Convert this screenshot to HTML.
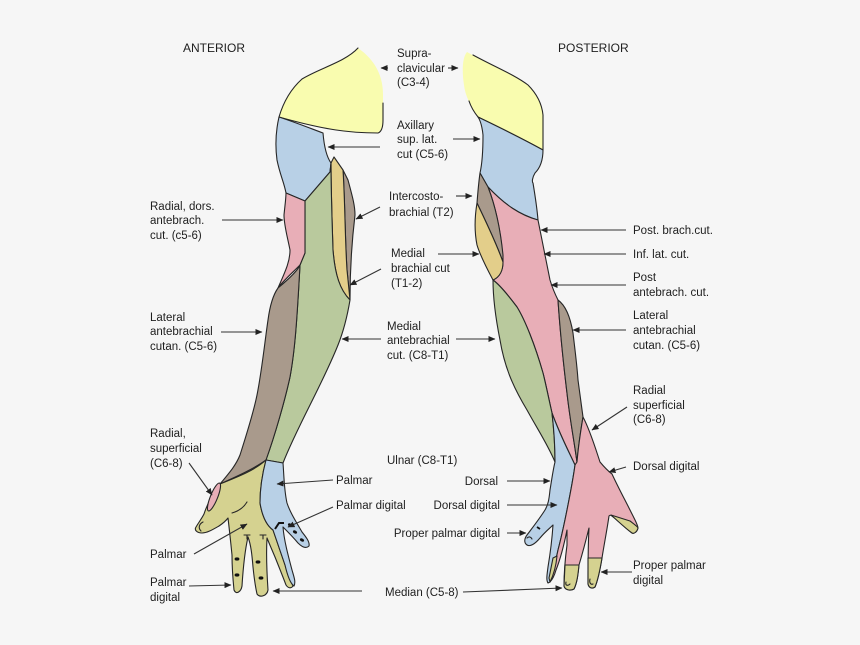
<!DOCTYPE html>
<html>
<head>
<meta charset="utf-8">
<style>
  html,body{margin:0;padding:0;background:#f6f6f6;}
  svg{display:block;}
  text{font-family:"Liberation Sans",Arial,sans-serif;font-size:11.5px;fill:#1e1e1e;}
  .h{font-size:12px;}
  .s{stroke:#262626;stroke-width:1.1;stroke-linejoin:round;stroke-linecap:round;}
  .a{stroke:#333;stroke-width:1.1;fill:none;marker-end:url(#ah);}
</style>
</head>
<body>
<svg width="860" height="645" viewBox="0 0 860 645" xmlns="http://www.w3.org/2000/svg">
<defs>
  <marker id="ah" markerUnits="userSpaceOnUse" markerWidth="7" markerHeight="6" refX="6.5" refY="3" orient="auto">
    <path d="M0,0 L7,3 L0,6 z" fill="#222"/>
  </marker>
</defs>
<rect width="860" height="645" fill="#f6f6f6"/>

<!-- ================= ANTERIOR ARM ================= -->
<!-- yellow shoulder -->
<path d="M302,79 C320,68 345,62 358,48 C372,58 383,72 383,95 L383,120 C383,128 381,132 378,133 C350,133 325,130 279,117 C284,100 292,88 302,79 Z" fill="#f9fcaf"/>
<path class="s" fill="none" d="M383,103 L383,120 C383,128 381,132 378,133 C350,133 325,130 279,117 C284,100 292,88 302,79 C320,68 345,62 358,48"/>
<!-- blue axillary -->
<path class="s" fill="#b8d0e6" d="M279,117 C300,124 312,129 323,133 C324,145 326,156 331,163 L330,172 L305,201 L286,193 C284,182 280,175 277,160 C275,145 276,130 279,117 Z"/>
<!-- brown intercostobrachial -->
<path class="s" fill="#a99a8c" d="M343,170 L348,180 C352,195 355,205 355,215 C352,240 350,270 350,300 L347,270 C345,240 345,200 343,170 Z"/>
<!-- tan medial brachial -->
<path class="s" fill="#e3ce8a" d="M331,163 L334,157 L343,170 C345,200 345,240 347,270 L350,300 C340,290 335,275 333,250 C332,220 331,190 331,163 Z"/>
<!-- green medial antebrachial -->
<path class="s" fill="#b9c99d" d="M305,201 L330,172 L331,163 C331,190 332,220 333,250 C335,275 340,290 350,300 C348,312 344,330 338,345 C330,365 320,385 310,405 C300,425 290,445 283,463 L266,460 C275,435 285,400 290,377 C295,350 297,320 300,265 L305,253 Z"/>
<!-- pink radial dors antebrach -->
<path class="s" fill="#e8aeb7" d="M286,193 L305,201 L305,253 L300,265 C290,275 282,282 278,288 C285,272 290,262 290,250 C287,235 284,225 284,215 C285,205 286,198 286,193 Z"/>
<!-- brown lateral antebrachial -->
<path class="s" fill="#a99a8c" d="M278,288 C290,278 298,270 300,265 C297,320 295,350 290,377 C285,400 275,435 266,460 C255,468 240,475 220,484 C230,472 236,465 240,455 C248,430 254,410 257,395 C262,370 265,340 268,320 C270,305 273,295 278,288 Z"/>
<!-- palm olive -->
<path class="s" fill="#d5d290" d="M220,484 C240,476 255,470 266,460 C262,475 260,490 260,503 C262,515 266,525 273,530 C277,542 281,553 285,565 C288,575 291,581 293,586 C291,589 288,588 286,585 C283,577 279,567 275,557 C272,550 269,543 267,538 C266,555 267,575 268,590 C267,596 260,598 257,594 C255,585 254,577 253,567 C252,555 251,545 248,537 C245,550 243,570 242,586 C241,592 236,595 234,590 C233,580 232,565 232,555 C231,545 230,535 228,518 C225,522 222,524 219,526 C212,530 207,533 202,533 C197,533 194,530 196,527 C199,522 202,518 204,514 C207,505 212,494 220,484 Z"/>
<!-- blue ulnar palmar -->
<path class="s" fill="#b8d0e6" d="M266,460 L283,463 C284,475 284,490 287,503 C290,512 295,520 302,532 C306,537 310,542 309,546 C306,549 302,547 298,543 C293,537 288,532 283,527 C284,540 288,555 292,570 C294,577 296,582 294,586 C291,584 288,578 285,565 C281,553 277,542 273,530 C266,525 262,515 260,503 C260,490 262,475 266,460 Z"/>
<!-- pink radial superficial ellipse -->
<ellipse class="s" cx="214" cy="497" rx="3.6" ry="15" transform="rotate(22 214 497)" fill="#e8aeb7"/>
<!-- palm detail lines -->
<path class="s" fill="none" d="M247,502 C244,507 239,511 232,513"/>
<path class="s" fill="none" d="M203,522 C199,524 198,528 201,531"/>
<path class="s" fill="none" d="M244,535 L250,535 M247,535 L247,539"/>
<path class="s" fill="none" d="M260,535 L266,535 M263,535 L263,539"/>
<!-- dots -->
<g fill="#111">
  <ellipse cx="237" cy="559" rx="2.4" ry="1.6"/>
  <ellipse cx="237" cy="575" rx="2.4" ry="1.6"/>
  <ellipse cx="258" cy="562" rx="2.4" ry="1.6"/>
  <ellipse cx="261" cy="578" rx="2.4" ry="1.6"/>
  <ellipse cx="290" cy="525" rx="2.2" ry="1.5" transform="rotate(30 290 525)"/>
  <ellipse cx="295" cy="532" rx="2.2" ry="1.5" transform="rotate(30 295 532)"/>
  <ellipse cx="302" cy="540" rx="2.2" ry="1.5" transform="rotate(30 302 540)"/>
</g>
<path stroke="#111" stroke-width="2" fill="none" d="M275,529 L279,523 L284,523"/>

<!-- ================= POSTERIOR ARM ================= -->
<!-- yellow -->
<path d="M467,52 C490,65 515,75 528,85 C538,95 542,105 543,115 L543,150 C525,140 505,130 478,117 C470,105 465,95 464,85 C462,72 462,58 467,52 Z" fill="#f9fcaf"/>
<path class="s" fill="none" d="M473,55 C495,67 515,75 528,85 C538,95 542,105 543,115 L543,150 C525,140 505,130 478,117 C474,112 471,107 469,101"/>
<!-- blue -->
<path class="s" fill="#b8d0e6" d="M478,117 C505,130 525,140 543,150 C543,160 540,168 535,173 C532,178 532,182 533,183 C535,195 537,208 538,220 C520,215 505,205 488,187 L480,173 C483,160 483,145 483,135 C482,125 480,120 478,117 Z"/>
<!-- pink upper -->
<path class="s" fill="#e8aeb7" d="M488,187 C505,205 520,215 538,220 C542,240 546,260 550,280 C553,290 556,296 558,300 C560,330 563,360 567,393 C570,420 574,440 577,462 L575,465 C568,450 560,435 552,413 C548,395 545,380 543,373 C535,345 525,320 517,307 C508,295 500,285 493,280 C500,277 503,270 503,262 C502,240 497,210 488,187 Z"/>
<!-- brown intercostobrachial -->
<path class="s" fill="#a99a8c" d="M480,173 L488,187 C495,205 500,225 503,255 L503,262 C495,240 485,220 477,203 C478,190 479,180 480,173 Z"/>
<!-- tan -->
<path class="s" fill="#e3ce8a" d="M477,203 C485,220 495,240 503,262 C503,270 500,277 493,280 C485,265 480,255 477,245 C474,230 475,215 477,203 Z"/>
<!-- brown lateral -->
<path class="s" fill="#a99a8c" d="M558,300 C565,305 570,315 573,333 C575,350 577,365 578,380 C580,395 582,410 583,417 C580,435 578,450 577,462 C574,440 570,420 567,393 C563,360 560,330 558,300 Z"/>
<!-- green -->
<path class="s" fill="#b9c99d" d="M493,280 C500,285 508,295 517,307 C525,320 535,345 543,373 C546,385 549,400 552,413 C554,430 555,445 555,462 C548,445 538,430 527,410 C515,390 505,370 500,340 C496,320 493,300 493,280 Z"/>
<!-- blue dorsal hand -->
<path class="s" fill="#b8d0e6" d="M552,413 C554,430 555,445 555,462 C553,470 552,478 550,490 C549,500 548,505 545,510 C540,518 533,527 527,535 C524,539 524,543 527,545 C530,547 535,544 540,538 C545,532 550,528 553,525 C552,540 550,555 548,567 C547,575 546,580 548,583 L550,582 C553,570 556,560 558,550 C562,535 565,520 567,510 C570,495 573,480 575,465 C568,450 560,435 552,413 Z"/>
<!-- pink hand -->
<path class="s" fill="#e8aeb7" d="M575,465 L577,462 C578,450 580,435 583,417 C590,430 596,450 600,462 C605,468 608,471 612,474 C618,487 625,500 630,510 C634,518 638,525 638,528 C637,532 634,534 632,533 C625,528 620,522 612,516 C610,515 610,515 609,516 C607,530 604,545 602,558 C600,570 598,580 595,587 C592,589 589,588 588,584 C588,565 588,545 589,528 C586,540 582,555 579,565 C578,575 577,583 574,589 C570,591 565,590 564,586 C564,575 565,560 567,545 L567,530 C564,545 560,560 556,570 C554,577 552,580 550,582 C553,570 556,560 558,550 C562,535 565,520 567,510 C570,495 573,480 575,465 Z"/>
<!-- olive tips posterior -->
<path class="s" fill="#d5d290" d="M611,515 L630,521 C634,524 637,526 638,528 C637,532 634,534 632,533 C625,528 619,522 611,515 Z"/>
<path class="s" fill="#d5d290" d="M588,558 L602,558 C600,570 598,580 595,587 C592,589 589,588 588,584 Z"/>
<path class="s" fill="#d5d290" d="M565,565 L579,565 C578,575 577,583 574,589 C570,591 565,590 564,586 Z"/>
<path class="s" fill="#d5d290" d="M553,558 L557,556 C556,567 553,576 550,582 L549,578 Z"/>
<path class="s" fill="none" d="M590,579 C589,583 591,585 593,584"/>
<path class="s" fill="none" d="M566,582 C565,586 568,586 570,584"/>
<path class="s" fill="none" d="M527,538 C529,536 531,537 532,539"/>
<path stroke="#111" stroke-width="1.8" fill="none" d="M537,527 L540,529"/>

<!-- ================= ARROWS ================= -->
<g>
  <line class="a" x1="388" y1="68" x2="381" y2="68"/>
  <line class="a" x1="448" y1="68" x2="458" y2="68"/>
  <line class="a" x1="380" y1="147" x2="328" y2="147"/>
  <line class="a" x1="453" y1="139" x2="480" y2="139"/>
  <line class="a" x1="380" y1="207" x2="356" y2="219"/>
  <line class="a" x1="456" y1="196" x2="472" y2="196"/>
  <line class="a" x1="381" y1="269" x2="350" y2="285"/>
  <line class="a" x1="438" y1="254" x2="479" y2="254"/>
  <line class="a" x1="381" y1="339" x2="342" y2="339"/>
  <line class="a" x1="456" y1="339" x2="495" y2="339"/>
  <line class="a" x1="333" y1="480" x2="277" y2="484"/>
  <line class="a" x1="333" y1="507" x2="288" y2="527"/>
  <line class="a" x1="507" y1="481" x2="550" y2="481"/>
  <line class="a" x1="507" y1="505" x2="557" y2="505"/>
  <line class="a" x1="507" y1="533" x2="526" y2="533"/>
  <line class="a" x1="463" y1="592" x2="562" y2="588"/>
  <line class="a" x1="362" y1="591" x2="273" y2="591"/>
  <line class="a" x1="222" y1="220" x2="283" y2="220"/>
  <line class="a" x1="221" y1="332" x2="262" y2="332"/>
  <line class="a" x1="189" y1="463" x2="212" y2="495"/>
  <line class="a" x1="194" y1="554" x2="247" y2="524"/>
  <line class="a" x1="189" y1="586" x2="231" y2="585"/>
  <line class="a" x1="626" y1="230" x2="541" y2="230"/>
  <line class="a" x1="626" y1="254" x2="544" y2="254"/>
  <line class="a" x1="626" y1="285" x2="551" y2="285"/>
  <line class="a" x1="626" y1="330" x2="573" y2="330"/>
  <line class="a" x1="627" y1="407" x2="592" y2="430"/>
  <line class="a" x1="626" y1="467" x2="609" y2="472"/>
  <line class="a" x1="632" y1="572" x2="601" y2="572"/>
</g>

<!-- ================= LABELS ================= -->
<text class="h" x="183" y="52">ANTERIOR</text>
<text class="h" x="558" y="52">POSTERIOR</text>

<text x="397" y="57">Supra-</text>
<text x="397" y="72">clavicular</text>
<text x="397" y="86">(C3-4)</text>

<text x="397" y="129">Axillary</text>
<text x="397" y="143">sup. lat.</text>
<text x="397" y="158">cut (C5-6)</text>

<text x="389" y="200">Intercosto-</text>
<text x="389" y="216">brachial (T2)</text>

<text x="391" y="257">Medial</text>
<text x="391" y="272">brachial cut</text>
<text x="391" y="287">(T1-2)</text>

<text x="387" y="330">Medial</text>
<text x="387" y="344">antebrachial</text>
<text x="387" y="359">cut. (C8-T1)</text>

<text x="387" y="464">Ulnar (C8-T1)</text>
<text x="336" y="484">Palmar</text>
<text x="336" y="509">Palmar digital</text>
<text x="498" y="485" text-anchor="end">Dorsal</text>
<text x="500" y="509" text-anchor="end">Dorsal digital</text>
<text x="500" y="537" text-anchor="end">Proper palmar digital</text>
<text x="385" y="596">Median (C5-8)</text>

<text x="150" y="210">Radial, dors.</text>
<text x="150" y="224">antebrach.</text>
<text x="150" y="239">cut. (c5-6)</text>

<text x="150" y="321">Lateral</text>
<text x="150" y="335">antebrachial</text>
<text x="150" y="350">cutan. (C5-6)</text>

<text x="150" y="437">Radial,</text>
<text x="150" y="452">superficial</text>
<text x="150" y="467">(C6-8)</text>

<text x="150" y="558">Palmar</text>
<text x="150" y="586">Palmar</text>
<text x="150" y="601">digital</text>

<text x="633" y="234">Post. brach.cut.</text>
<text x="633" y="258">Inf. lat. cut.</text>
<text x="633" y="281">Post</text>
<text x="633" y="296">antebrach. cut.</text>

<text x="633" y="319">Lateral</text>
<text x="633" y="334">antebrachial</text>
<text x="633" y="349">cutan. (C5-6)</text>

<text x="633" y="394">Radial</text>
<text x="633" y="409">superficial</text>
<text x="633" y="423">(C6-8)</text>

<text x="633" y="470">Dorsal digital</text>
<text x="633" y="569">Proper palmar</text>
<text x="633" y="584">digital</text>
</svg>
</body>
</html>
